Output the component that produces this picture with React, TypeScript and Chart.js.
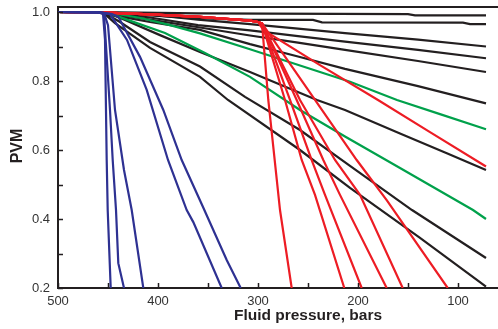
import React, { useEffect, useRef } from 'react';
import { Chart, registerables } from 'chart.js';

Chart.register(...registerables);

// ---- Axis ticks ----
const xTickValues = [500, 450, 400, 350, 300, 250, 200, 150, 100];
const xTickLabels = [500, 400, 300, 200, 100];
const yTickValues = [0.2, 0.3, 0.4, 0.5, 0.6, 0.7, 0.8, 0.9, 1.0];
const yTickLabels = [0.2, 0.4, 0.6, 0.8, 1.0];

// ---- Series: [fluid pressure (bars), PVM] ----
const black1 = [[500, 1.0], [440, 0.999], [360, 0.996], [150, 0.994], [143, 0.99], [72, 0.99]];
const black2 = [[500, 1.0], [455, 0.999], [420, 0.992], [380, 0.985], [340, 0.98], [308, 0.977], [245, 0.977], [236, 0.97], [95, 0.969], [88, 0.965], [72, 0.965]];
const black3 = [[500, 1.0], [458, 0.999], [438, 0.997], [408, 0.992], [360, 0.978], [308, 0.965], [260, 0.952], [213, 0.939], [140, 0.92], [72, 0.9]];
const black4 = [[500, 1.0], [458, 0.999], [443, 0.996], [408, 0.984], [360, 0.962], [308, 0.947], [260, 0.93], [213, 0.914], [140, 0.89], [72, 0.866]];
const black5 = [[500, 1.0], [458, 0.999], [443, 0.993], [408, 0.978], [358, 0.955], [308, 0.932], [260, 0.911], [213, 0.89], [140, 0.858], [72, 0.826]];
const black6 = [[500, 1.0], [458, 0.999], [446, 0.991], [408, 0.971], [358, 0.948], [308, 0.907], [260, 0.871], [213, 0.835], [140, 0.785], [72, 0.735]];
const black7 = [[500, 1.0], [458, 0.999], [448, 0.994], [433, 0.977], [398, 0.933], [358, 0.884], [308, 0.826], [241, 0.745], [213, 0.716], [158, 0.648], [110, 0.589], [72, 0.542]];
const black8 = [[500, 1.0], [458, 0.999], [450, 0.991], [438, 0.971], [408, 0.913], [358, 0.842], [313, 0.754], [258, 0.658], [208, 0.554], [146, 0.426], [72, 0.287]];
const black9 = [[500, 1.0], [458, 0.999], [452, 0.991], [443, 0.968], [408, 0.896], [358, 0.812], [330, 0.745], [258, 0.6], [208, 0.49], [138, 0.345], [72, 0.204]];

const green1 = [[500, 1.0], [458, 0.999], [446, 0.997], [416, 0.982], [388, 0.962], [358, 0.938], [308, 0.892], [258, 0.845], [208, 0.798], [161, 0.745], [118, 0.704], [72, 0.66]];
const green2 = [[500, 1.0], [458, 0.999], [448, 0.996], [436, 0.983], [393, 0.939], [353, 0.881], [308, 0.812], [258, 0.716], [213, 0.639], [158, 0.548], [85, 0.426], [72, 0.4]];

const red1 = [[500, 1.0], [458, 0.999], [408, 0.993], [358, 0.986], [308, 0.975], [300, 0.971], [296, 0.967], [289.7, 0.745], [278, 0.426], [266.3, 0.2]];
const red2 = [[500, 1.0], [458, 0.999], [408, 0.993], [358, 0.986], [308, 0.975], [300, 0.971], [296, 0.967], [273, 0.745], [256.3, 0.571], [243, 0.47], [213.7, 0.2]];
const red3 = [[500, 1.0], [458, 0.999], [408, 0.993], [358, 0.986], [308, 0.975], [300, 0.971], [296, 0.967], [268, 0.745], [246.3, 0.571], [233, 0.47], [196.3, 0.2]];
const red4 = [[500, 1.0], [458, 0.999], [408, 0.993], [358, 0.986], [308, 0.975], [300, 0.971], [296, 0.967], [261.3, 0.745], [234.7, 0.571], [218, 0.47], [171.3, 0.2]];
const red5 = [[500, 1.0], [458, 0.999], [408, 0.993], [358, 0.986], [308, 0.975], [300, 0.971], [296, 0.967], [258, 0.745], [223, 0.571], [198, 0.47], [155.3, 0.2]];
const red6 = [[500, 1.0], [458, 0.999], [408, 0.993], [358, 0.986], [308, 0.975], [300, 0.971], [296, 0.967], [243, 0.745], [201.3, 0.571], [171.3, 0.455], [110.3, 0.2]];
const red7 = [[500, 1.0], [458, 0.999], [408, 0.993], [358, 0.986], [308, 0.975], [300, 0.971], [294.7, 0.948], [238, 0.846], [180, 0.745], [128, 0.652], [72, 0.552]];

const blue1 = [[500, 1.0], [460, 0.999], [455, 0.995], [453, 0.92], [451.3, 0.571], [450.3, 0.426], [447.3, 0.2]];
const blue2 = [[500, 1.0], [460, 0.999], [454, 0.995], [448, 0.716], [445.3, 0.571], [442, 0.426], [439.7, 0.272], [434, 0.2]];
const blue3 = [[500, 1.0], [460, 0.999], [454, 0.997], [450, 0.962], [443, 0.716], [434, 0.542], [426.3, 0.426], [414.7, 0.2]];
const blue4 = [[500, 1.0], [458, 0.999], [448, 0.994], [431, 0.919], [411.3, 0.774], [390, 0.571], [371.3, 0.426], [364.7, 0.391], [336.3, 0.2]];
const blue5 = [[500, 1.0], [458, 0.999], [446, 0.994], [439.7, 0.986], [418, 0.87], [394.7, 0.716], [376.3, 0.571], [355, 0.435], [331.3, 0.281], [317.3, 0.2]];

const BLACK = '#231f20';
const RED = '#ed1c24';
const GREEN = '#00a14b';
const BLUE = '#2e3192';
const FONT = '"Liberation Sans", Arial, Helvetica, sans-serif';

const groups: { color: string; order: number; lines: number[][][] }[] = [
  { color: BLACK, order: 4, lines: [black1, black2, black3, black4, black5, black6, black7, black8, black9] },
  { color: GREEN, order: 3, lines: [green1, green2] },
  { color: RED, order: 2, lines: [red1, red2, red3, red4, red5, red6, red7] },
  { color: BLUE, order: 1, lines: [blue1, blue2, blue3, blue4, blue5] },
];

const frameAndTicks = {
  id: 'frameAndTicks',
  afterDatasetsDraw(chart: any) {
    const { ctx, chartArea, scales } = chart;
    const { left, right, top, bottom } = chartArea;
    const x = scales.x;
    const y = scales.y;
    ctx.save();
    ctx.strokeStyle = BLACK;
    ctx.lineWidth = 2;
    ctx.beginPath();
    ctx.moveTo(left - 1, top);
    ctx.lineTo(right, top);
    ctx.stroke();
    ctx.lineWidth = 1.5;
    ctx.beginPath();
    xTickValues.forEach((v) => {
      const px = Math.round(x.getPixelForValue(v)) + 0.5;
      ctx.moveTo(px, bottom);
      ctx.lineTo(px, bottom - 5);
    });
    yTickValues.forEach((v) => {
      const py = Math.round(y.getPixelForValue(v)) + 0.5;
      ctx.moveTo(left, py);
      ctx.lineTo(left + 5, py);
    });
    ctx.stroke();

    ctx.fillStyle = BLACK;
    ctx.textAlign = 'center';
    ctx.textBaseline = 'middle';
    ctx.font = `bold 15.5px ${FONT}`;
    ctx.fillText('Fluid pressure, bars', x.getPixelForValue(250), chart.height - 13);
    ctx.save();
    ctx.translate(18, y.getPixelForValue(0.6) - 4);
    ctx.rotate(-Math.PI / 2);
    ctx.font = `bold 16px ${FONT}`;
    ctx.fillText('PVM', 0, 0);
    ctx.restore();
    ctx.restore();
  },
};

export default function App() {
  const canvasRef = useRef<HTMLCanvasElement | null>(null);

  useEffect(() => {
    if (!canvasRef.current) return;
    const datasets: any[] = [];
    groups.forEach((g) => {
      g.lines.forEach((line) => {
        datasets.push({
          data: line.map(([p, v]) => ({ x: p, y: v })),
          borderColor: g.color,
          backgroundColor: g.color,
          borderWidth: 2.2,
          pointRadius: 0,
          tension: 0,
          fill: false,
          order: g.order,
        });
      });
    });

    const chart = new Chart(canvasRef.current, {
      type: 'line',
      data: { datasets },
      plugins: [frameAndTicks],
      options: {
        animation: false,
        responsive: true,
        maintainAspectRatio: false,
        layout: { padding: { top: 0, right: 0, left: 0, bottom: 0 } },
        plugins: { legend: { display: false }, tooltip: { enabled: false }, title: { display: false } },
        scales: {
          x: {
            type: 'linear',
            reverse: true,
            min: 60,
            max: 500,
            afterBuildTicks: (scale: any) => {
              scale.ticks = xTickValues.map((v) => ({ value: v }));
            },
            afterFit: (scale: any) => {
              scale.height = 41;
              scale.paddingLeft = 0;
              scale.paddingRight = 0;
            },
            ticks: {
              autoSkip: false,
              maxRotation: 0,
              padding: 6,
              color: '#333333',
              font: { family: FONT, size: 13 },
              callback: (value: any) => (xTickLabels.includes(Number(value)) ? String(value) : ''),
            },
            grid: { display: true, drawOnChartArea: false, drawTicks: false },
            border: { display: true, color: BLACK, width: 2 },
          },
          y: {
            type: 'linear',
            min: 0.2,
            max: 1.0145,
            afterBuildTicks: (scale: any) => {
              scale.ticks = yTickValues.map((v) => ({ value: v }));
            },
            afterFit: (scale: any) => {
              scale.width = 58;
              scale.paddingTop = 7;
              scale.paddingBottom = 0;
            },
            ticks: {
              autoSkip: false,
              padding: 8,
              color: '#333333',
              font: { family: FONT, size: 13, lineHeight: 1.1 },
              callback: (value: any) =>
                yTickLabels.some((l) => Math.abs(l - Number(value)) < 1e-6) ? Number(value).toFixed(1) : '',
            },
            grid: { display: true, drawOnChartArea: false, drawTicks: false },
            border: { display: true, color: BLACK, width: 2 },
          },
        },
      },
    });
    return () => chart.destroy();
  }, []);

  return (
    <div style={{ position: 'fixed', left: 0, top: 0, width: 498, height: 329, background: '#fff' }}>
      <canvas ref={canvasRef} />
    </div>
  );
}
